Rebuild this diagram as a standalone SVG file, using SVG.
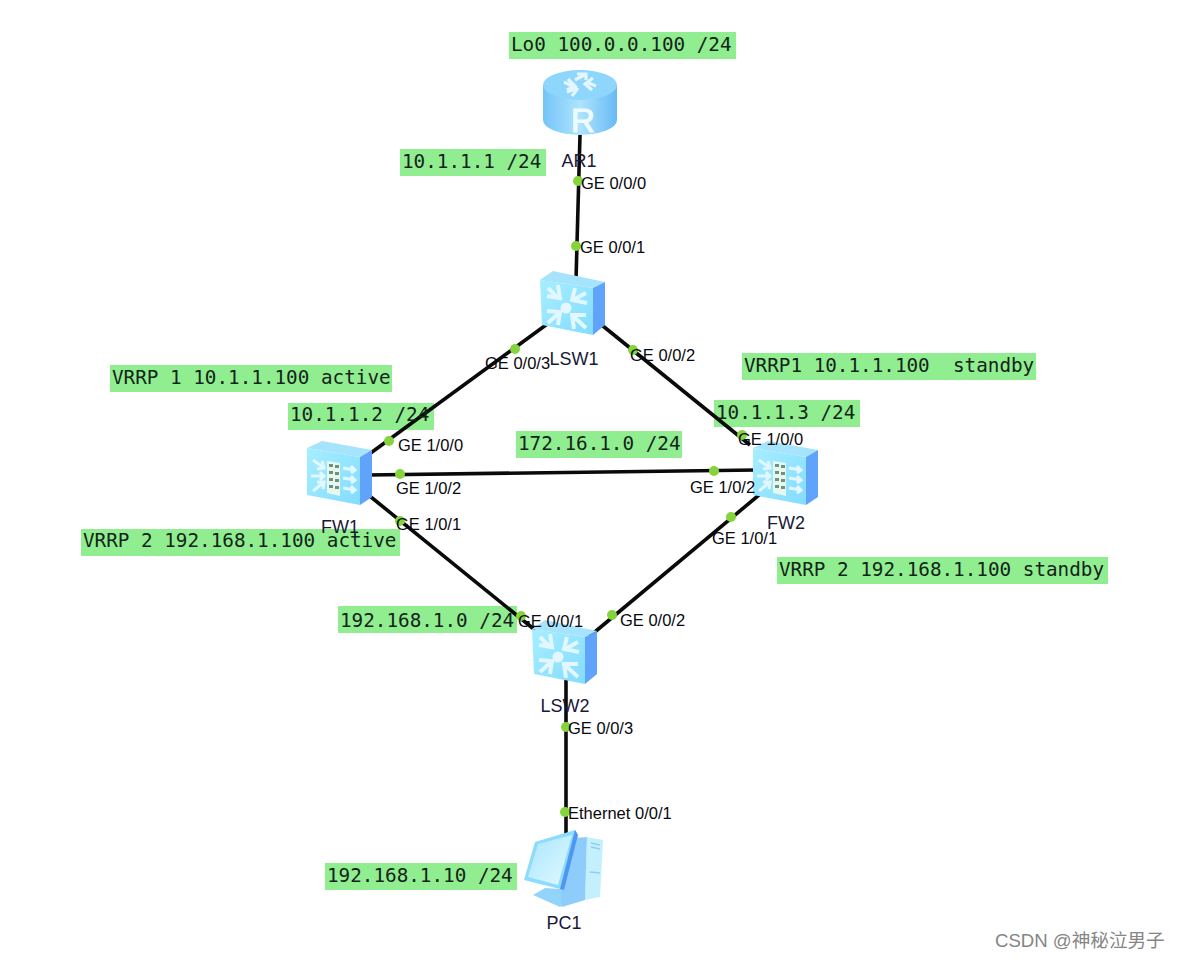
<svg xmlns="http://www.w3.org/2000/svg" width="1180" height="960" viewBox="0 0 1180 960">
<style>
.band{fill:#90ee90}
.note{font:19.3px "DejaVu Sans Mono","Liberation Mono",monospace;fill:#14241a;white-space:pre}
.port{font:16.5px "Liberation Sans",Arial,sans-serif;fill:#08080f}
.name{font:18px "Liberation Sans",Arial,sans-serif;fill:#181838;text-anchor:middle}
.link{stroke:#0a0a0a;stroke-width:3.6;fill:none}
.dot{fill:#86d43c}
.wm{font:18.6px "Liberation Sans","Noto Sans CJK SC",sans-serif;fill:#858585}
.face{fill:url(#face)}
.side{fill:#5fa3fb}
.top{fill:#a6e4fd}
.glyph{fill:#e2f7ff}
</style>
<defs>
<linearGradient id="face" x1="0" y1="0" x2="1" y2="1"><stop offset="0" stop-color="#a6eeff"/><stop offset="1" stop-color="#84dcff"/></linearGradient>
<linearGradient id="cyl" x1="0" y1="0" x2="1" y2="0"><stop offset="0" stop-color="#74c4f8"/><stop offset=".5" stop-color="#aee4fd"/><stop offset="1" stop-color="#68baf4"/></linearGradient>
<linearGradient id="scr" x1="0" y1="0" x2="1" y2="1"><stop offset="0" stop-color="#a8e6fd"/><stop offset="1" stop-color="#e2f9ff"/></linearGradient>
<g id="switch">
<path class="top" d="M0 9 L13 0 L65 11 L53 17Z"/>
<path class="side" d="M53 17 L65 11 L65 54 L53 64Z"/>
<path class="face" d="M0 9 L53 17 L53 64 L2 54Z"/>
<circle class="glyph" cx="26" cy="37" r="5.5"/>
<g stroke="#e2f7ff" stroke-width="4" fill="none">
<path d="M8 17 L19 28 M7 25 L20 27 L18 14"/>
<path d="M46 22 L33 29 M47 32 L32 29 L35 17"/>
<path d="M8 52 L19 42 M7 40 L20 41 L18 54"/>
<path d="M46 57 L33 45 M46 44 L32 44 L34 58"/>
</g>
</g>
<g id="firewall">
<path class="top" d="M1 7 L16 0 L66 9 L54 16Z"/>
<path class="side" d="M54 16 L66 9 L66 56 L54 64Z"/>
<path class="face" d="M1 7 L54 16 L54 64 L1 54Z"/>
<path d="M21 20 L34 22 L34 55 L21 52Z" fill="#e6f8ee"/>
<g fill="#72907f"><path d="M23 23h4v3h-4zM29 24h4v3h-4zM23 30h4v3h-4zM29 31h4v3h-4zM23 37h4v3h-4zM29 38h4v3h-4zM23 44h4v3h-4zM29 45h4v3h-4z"/></g>
<g stroke="#e2f7ff" stroke-width="3" fill="none">
<path d="M7 19 L18 27 M11 28 L18 27 L16 20"/>
<path d="M5 35 L18 35 M14 31 L18 35 L14 39"/>
<path d="M7 50 L18 41 M11 41 L18 41 L17 48"/>
<path d="M37 27 L49 29 M45 25 L49 29 L45 32"/>
<path d="M37 37 L49 39 M45 35 L49 39 L45 42"/>
<path d="M37 47 L49 49 M45 45 L49 49 L45 52"/>
</g>
</g>
</defs>
<rect width="1180" height="960" fill="#fff"/>
<g id="bands">
<rect class="band" x="509" y="32" width="227" height="27"/>
<rect class="band" x="400" y="149" width="146" height="27"/>
<rect class="band" x="110" y="365" width="282" height="27"/>
<rect class="band" x="288" y="403" width="146" height="27"/>
<rect class="band" x="742" y="353" width="294" height="27"/>
<rect class="band" x="714" y="400" width="146" height="27"/>
<rect class="band" x="516" y="431" width="166" height="27"/>
<rect class="band" x="81" y="529" width="319" height="27"/>
<rect class="band" x="777" y="557" width="331" height="27"/>
<rect class="band" x="338" y="606" width="179" height="27"/>
<rect class="band" x="325" y="863" width="192" height="27"/>
</g>
<g id="connectors">
<path class="link" d="M580 135 L576 280"/>
<path class="link" d="M550 322 L368 455"/>
<path class="link" d="M598 322 L750 445"/>
<path class="link" d="M368 475 L756 470"/>
<path class="link" d="M366 493 L535 630"/>
<path class="link" d="M765 490 L590 636"/>
<path class="link" d="M566 675 L566 835"/>
</g>
<g id="dots">
<circle class="dot" cx="578" cy="181" r="5"/>
<circle class="dot" cx="576" cy="246" r="5"/>
<circle class="dot" cx="515" cy="349" r="5"/>
<circle class="dot" cx="633" cy="350" r="5"/>
<circle class="dot" cx="389" cy="441" r="5"/>
<circle class="dot" cx="400" cy="474" r="5"/>
<circle class="dot" cx="400" cy="521" r="5"/>
<circle class="dot" cx="742" cy="435" r="5"/>
<circle class="dot" cx="714" cy="471" r="5"/>
<circle class="dot" cx="731" cy="517" r="5"/>
<circle class="dot" cx="521" cy="616" r="5"/>
<circle class="dot" cx="612" cy="615" r="5"/>
<circle class="dot" cx="566" cy="727" r="5"/>
<circle class="dot" cx="565" cy="812" r="5"/>
</g>
<g id="AR1">
<path d="M543 85 V120 A37 15 0 0 0 617 120 V85Z" fill="url(#cyl)"/>
<ellipse cx="580" cy="85" rx="37" ry="15" fill="#8ed6fc"/>
<g stroke="#e2f7ff" stroke-width="3.2" fill="none">
<path d="M564 82 L574 87 M567 90 L575 86 L568 79"/>
<path d="M596 86 L586 82 M593 78 L585 84 L592 90"/>
<path d="M567 92 L577 88 M572 96 L578 88"/>
<path d="M586 74 L575 80 M577 74 L586 74 L586 80"/>
</g>
<text x="583" y="132" font-family="Liberation Sans, Arial, sans-serif" font-size="33" fill="#eefaff" stroke="#eefaff" stroke-width="1.2" text-anchor="middle">R</text>
<text class="name" x="579" y="167">AR1</text>
</g>
<g id="LSW1"><use href="#switch" x="540" y="271"/><text class="name" x="574" y="365">LSW1</text></g>
<g id="FW1"><use href="#firewall" x="306" y="441"/><text class="name" x="340" y="533">FW1</text></g>
<g id="FW2"><use href="#firewall" x="752" y="441"/><text class="name" x="786" y="529">FW2</text></g>
<g id="LSW2"><use href="#switch" x="532" y="620"/><text class="name" x="565" y="712">LSW2</text></g>
<g id="PC1">
<path d="M533 895 L545 888 L575 890 L573 900 L560 907Z" fill="#93d4fb"/>
<path d="M587 837 L603 840 L600 897 L585 900Z" fill="#c4f0fd"/>
<path d="M591 843 L600 845 M591 847 L600 849 M590 872 L600 873" stroke="#8fcdf5" stroke-width="1.4" fill="none"/>
<path d="M575 838 L587 837 L585 900 L562 907 L561 890Z" fill="#8ecdfb"/>
<path d="M535 842 L575 830 L578 835 L564 890 L524 880Z" fill="#8cdcfd"/>
<path d="M575 830 L578 835 L564 890 L560 889Z" fill="#4f96f2"/>
<path d="M538 844 L572 835 L558 885 L528 877Z" fill="url(#scr)"/>
<text class="name" x="564" y="929">PC1</text>
</g>
<g id="notes">
<text class="note" x="511" y="51">Lo0 100.0.0.100 /24</text>
<text class="note" x="402" y="168">10.1.1.1 /24</text>
<text class="note" x="112" y="384">VRRP 1 10.1.1.100 active</text>
<text class="note" x="290" y="421">10.1.1.2 /24</text>
<text class="note" x="744" y="372">VRRP1 10.1.1.100  standby</text>
<text class="note" x="716" y="419">10.1.1.3 /24</text>
<text class="note" x="518" y="450">172.16.1.0 /24</text>
<text class="note" x="83" y="547">VRRP 2 192.168.1.100 active</text>
<text class="note" x="779" y="576">VRRP 2 192.168.1.100 standby</text>
<text class="note" x="340" y="627">192.168.1.0 /24</text>
<text class="note" x="327" y="882">192.168.1.10 /24</text>
</g>
<g id="ports">
<text class="port" x="581" y="189">GE 0/0/0</text>
<text class="port" x="580" y="253">GE 0/0/1</text>
<text class="port" x="485" y="369">GE 0/0/3</text>
<text class="port" x="630" y="361">GE 0/0/2</text>
<text class="port" x="398" y="451">GE 1/0/0</text>
<text class="port" x="396" y="494">GE 1/0/2</text>
<text class="port" x="396" y="530">GE 1/0/1</text>
<text class="port" x="738" y="445">GE 1/0/0</text>
<text class="port" x="690" y="493">GE 1/0/2</text>
<text class="port" x="712" y="544">GE 1/0/1</text>
<text class="port" x="518" y="627">GE 0/0/1</text>
<text class="port" x="620" y="626">GE 0/0/2</text>
<text class="port" x="568" y="734">GE 0/0/3</text>
<text class="port" x="568" y="819">Ethernet 0/0/1</text>
</g>
<text class="wm" x="995" y="947">CSDN @神秘泣男子</text>
</svg>
